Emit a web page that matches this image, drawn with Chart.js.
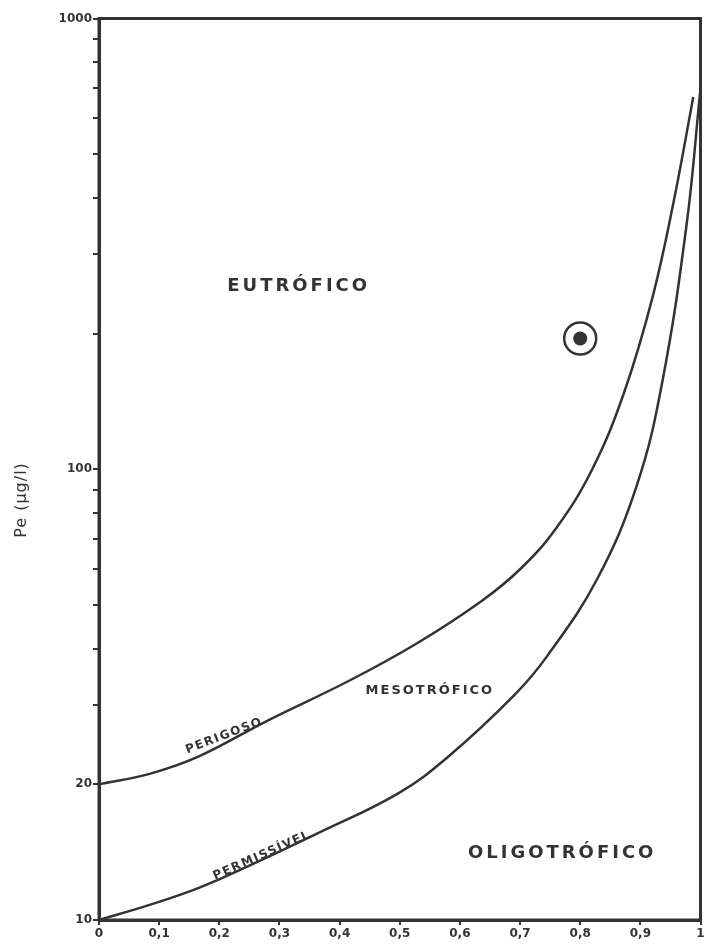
<!DOCTYPE html>
<html>
<head>
<meta charset="utf-8">
<script src="https://cdn.jsdelivr.net/npm/chart.js@4.4.1/dist/chart.umd.min.js"></script>
<style>
  html, body { margin: 0; padding: 0; background: #fff; }
  #wrap { width: 719px; height: 945px; }
</style>
</head>
<body>
<div id="wrap"><canvas id="c" width="719" height="945"></canvas></div>
<script>
// Curva "perigoso" (limite eutrófico / mesotrófico)
const perigosoX = [0, 0.084, 0.167, 0.278, 0.415, 0.526, 0.635, 0.70, 0.76, 0.82, 0.873, 0.92, 0.955, 0.988];
const perigosoY = [20, 21.1, 23.1, 27.6, 33.9, 40.9, 50.9, 60, 74, 100, 148, 240, 390, 670];

// Curva "permissível" (limite mesotrófico / oligotrófico)
const permissivelX = [0, 0.084, 0.167, 0.25, 0.365, 0.4975, 0.58, 0.69, 0.745, 0.828, 0.894, 0.936, 0.977, 1.0];
const permissivelY = [10, 10.8, 11.8, 13.2, 15.6, 19.1, 23, 31.5, 38.5, 57, 92, 155, 350, 700];

// Ponto do lago
const lakeX = [0.80];
const lakeY = [195];

const xTicks = [0, 0.1, 0.2, 0.3, 0.4, 0.5, 0.6, 0.7, 0.8, 0.9, 1];
const yTicks = [10, 20, 30, 40, 50, 60, 70, 80, 90, 100, 200, 300, 400, 500, 600, 700, 800, 900, 1000];
const yLabeled = [10, 20, 100, 1000];

// region labels in data coordinates
const regionText = ['EUTRÓFICO', 'MESOTRÓFICO', 'OLIGOTRÓFICO', 'PERIGOSO', 'PERMISSÍVEL'];
const regionX = [0.332, 0.55, 0.77, 0.208, 0.271];
const regionY = [255, 32.2, 14.06, 25.6, 13.9];

const INK = '#333333';

const toPoints = (xs, ys) => xs.map((x, i) => ({ x, y: ys[i] }));

const labelPlugin = {
  id: 'labels',
  afterDraw(chart) {
    const { ctx, chartArea: a, scales } = chart;
    ctx.save();
    // frame
    ctx.strokeStyle = INK;
    ctx.lineWidth = 3;
    ctx.strokeRect(a.left, a.top, a.right - a.left, a.bottom - a.top);

    const styles = [
      { font: 'bold 18px "DejaVu Sans"', spacing: '3px', rot: 0 },
      { font: 'bold 13px "DejaVu Sans"', spacing: '2px', rot: 0 },
      { font: 'bold 18px "DejaVu Sans"', spacing: '3px', rot: 0 },
      { font: 'bold 12px "DejaVu Sans"', spacing: '1.5px', rot: -21 },
      { font: 'bold 12px "DejaVu Sans"', spacing: '1.5px', rot: -24 },
    ];
    ctx.fillStyle = INK;
    ctx.textAlign = 'center';
    ctx.textBaseline = 'middle';
    regionText.forEach((t, i) => {
      const px = scales.x.getPixelForValue(regionX[i]);
      const py = scales.y.getPixelForValue(regionY[i]);
      const s = styles[i];
      ctx.save();
      ctx.translate(px, py);
      ctx.rotate(s.rot * Math.PI / 180);
      ctx.font = s.font;
      ctx.letterSpacing = s.spacing;
      ctx.fillText(t, 0, 0);
      ctx.restore();
    });

    // y axis title
    ctx.save();
    ctx.translate(22, 500);
    ctx.rotate(-Math.PI / 2);
    ctx.font = '16px "DejaVu Sans"';
    ctx.letterSpacing = '1px';
    ctx.fillText('Pe (μg/l)', 0, 0);
    ctx.restore();
    ctx.restore();
  }
};

new Chart(document.getElementById('c'), {
  type: 'line',
  data: {
    datasets: [
      {
        label: 'Perigoso',
        data: toPoints(perigosoX, perigosoY),
        borderColor: INK,
        borderWidth: 2.5,
        pointRadius: 0,
        tension: 0.4,
        fill: false,
      },
      {
        label: 'Permissível',
        data: toPoints(permissivelX, permissivelY),
        borderColor: INK,
        borderWidth: 2.5,
        pointRadius: 0,
        tension: 0.4,
        fill: false,
      },
      {
        type: 'scatter',
        label: 'Lago (anel)',
        data: toPoints(lakeX, lakeY),
        pointRadius: 16,
        pointBackgroundColor: 'rgba(0,0,0,0)',
        pointBorderColor: INK,
        pointBorderWidth: 2.5,
      },
      {
        type: 'scatter',
        label: 'Lago',
        data: toPoints(lakeX, lakeY),
        pointRadius: 7,
        pointBackgroundColor: INK,
        pointBorderWidth: 0,
      },
    ],
  },
  options: {
    responsive: false,
    animation: false,
    layout: { padding: { top: 14, right: 15, left: 0, bottom: 0 } },
    plugins: {
      legend: { display: false },
      tooltip: { enabled: false },
    },
    scales: {
      x: {
        type: 'linear',
        min: 0,
        max: 1,
        afterFit(scale) { scale.height = 25; },
        afterBuildTicks(scale) { scale.ticks = xTicks.map(v => ({ value: v })); },
        ticks: {
          color: INK,
          padding: 2,
          maxRotation: 0,
          autoSkip: false,
          font: { family: 'DejaVu Sans', size: 12, weight: 'bold' },
          callback(v) { return String(Math.round(v * 10) / 10).replace('.', ','); },
        },
        grid: { drawOnChartArea: false, color: INK, tickLength: 5, lineWidth: 2 },
        border: { color: INK, width: 3 },
      },
      y: {
        type: 'logarithmic',
        min: 10,
        max: 1000,
        afterFit(scale) { scale.width = 99; },
        afterBuildTicks(scale) { scale.ticks = yTicks.map(v => ({ value: v })); },
        ticks: {
          color: INK,
          padding: 1,
          autoSkip: false,
          font: { family: 'DejaVu Sans', size: 12, weight: 'bold' },
          callback(v) { return yLabeled.includes(v) ? String(v) : ''; },
        },
        grid: { drawOnChartArea: false, color: INK, tickLength: 6, lineWidth: 2 },
        border: { color: INK, width: 3 },
      },
    },
  },
  plugins: [labelPlugin],
});
</script>
</body>
</html>
